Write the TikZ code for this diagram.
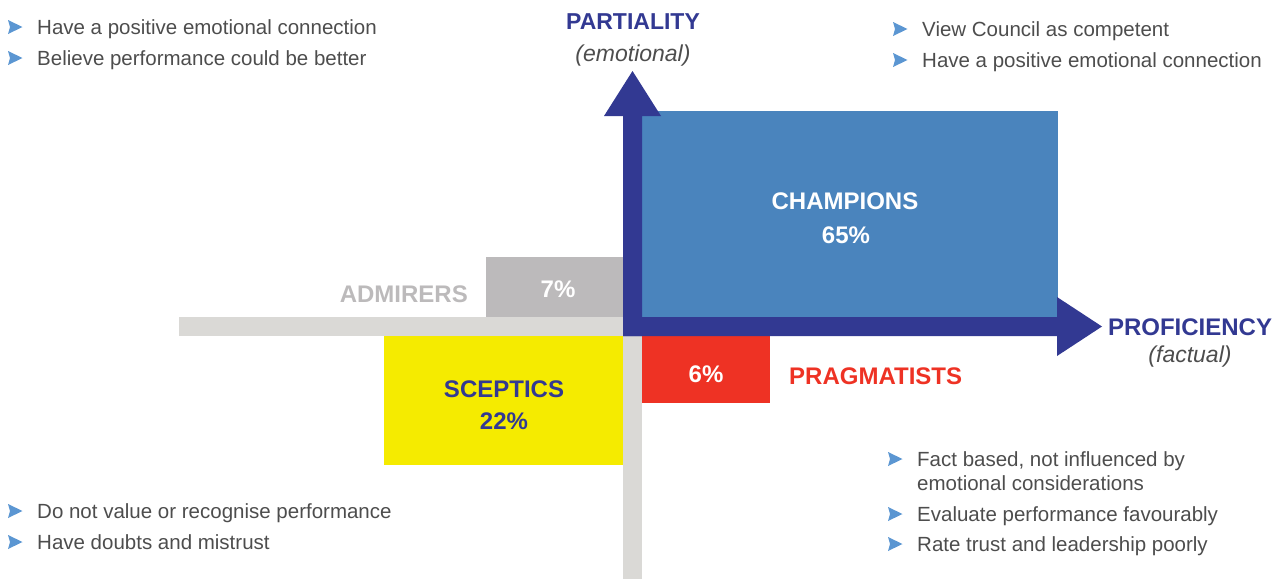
\documentclass[tikz,border=0pt]{standalone}
\usepackage{fontspec}
\setmainfont{Liberation Sans}
\definecolor{axisblue}{RGB}{50,57,146}
\definecolor{champblue}{RGB}{74,132,189}
\definecolor{pragred}{RGB}{238,50,36}
\definecolor{sceptyellow}{RGB}{245,235,0}
\definecolor{admgrey}{RGB}{188,186,187}
\definecolor{bargrey}{RGB}{218,217,214}
\definecolor{textgrey}{RGB}{77,77,77}
\definecolor{bulletblue}{RGB}{91,150,210}
\tikzset{
  body/.style={font=\fontsize{20.5}{24}\selectfont, text=textgrey, inner sep=0pt, anchor=base west},
  biglabel/.style={font=\fontsize{24}{28}\selectfont\bfseries, inner sep=0pt, anchor=base},
  axislabel/.style={font=\fontsize{23}{27}\selectfont\bfseries, text=axisblue, inner sep=0pt, anchor=base},
  axissub/.style={font=\fontsize{23}{27}\selectfont\itshape, text=textgrey, inner sep=0pt, anchor=base},
  box/.style={draw=none, inner sep=0pt, outer sep=0pt, anchor=north west},
  bularrow/.pic={\fill[bulletblue] (-7,-7) -- (7.5,0) -- (-7,7) -- (-5,0) -- cycle;}
}
\begin{document}
\begin{tikzpicture}[x=1pt,y=-1pt]
\useasboundingbox (0,0) rectangle (1283,579);
% grey axis parts
\fill[bargrey] (179,317) rectangle (623,336);
\fill[bargrey] (623,336) rectangle (642,579);
% boxes
\node[box, fill=champblue, minimum width=416pt, minimum height=206pt] (champ) at (642,111) {};
\node[box, fill=admgrey, minimum width=137pt, minimum height=60pt] (adm) at (486,257) {};
\node[box, fill=sceptyellow, minimum width=239pt, minimum height=129pt] (scep) at (384,336) {};
\node[box, fill=pragred, minimum width=128pt, minimum height=67pt] (prag) at (642,336) {};
% axes
\coordinate (origin) at (623,336);
\fill[axisblue] (origin) -- (623,116) -- (604,116) -- (632.5,71) -- (661,116) -- (642,116) -- (642,336) -- cycle;
\fill[axisblue] (623,317) -- (1057,317) -- (1057,297) -- (1102,326.5) -- (1057,356) -- (1057,336) -- (origin) -- cycle;
% axis labels
\node[axislabel] (partiality) at (633,29) {PARTIALITY};
\node[axissub] (emotional) at (633,61) {(emotional)};
\node[axislabel, font=\fontsize{24}{28}\selectfont\bfseries] (proficiency) at (1190,335) {PROFICIENCY};
\node[axissub] (factual) at (1190,362) {(factual)};
% box labels
\node[biglabel, text=white] (champname) at (845,209) {CHAMPIONS};
\node[biglabel, text=white] (champpct) at (846,243) {65\%};
\node[biglabel, text=white] (admpct) at (558,297) {7\%};
\node[biglabel, text=admgrey, anchor=base east] (admname) at (468,302) {ADMIRERS};
\node[biglabel, text=axisblue] (scepname) at (504,397) {SCEPTICS};
\node[biglabel, text=axisblue] (sceppct) at (504,429) {22\%};
\node[biglabel, text=white] (pragpct) at (706,382) {6\%};
\node[biglabel, text=pragred, anchor=base west] (pragname) at (789,384) {PRAGMATISTS};
% bullets top left
\pic at (15,27) {bularrow};
\node[body] (tl1) at (37,34) {Have a positive emotional connection};
\pic at (15,58) {bularrow};
\node[body] (tl2) at (37,65) {Believe performance could be better};
% bullets top right
\pic at (900,29) {bularrow};
\node[body] (tr1) at (922,36) {View Council as competent};
\pic at (900,60) {bularrow};
\node[body] (tr2) at (922,67) {Have a positive emotional connection};
% bullets bottom left
\pic at (15,511) {bularrow};
\node[body] (bl1) at (37,518) {Do not value or recognise performance};
\pic at (15,542) {bularrow};
\node[body] (bl2) at (37,549) {Have doubts and mistrust};
% bullets bottom right
\pic at (895,459) {bularrow};
\node[body] (br1) at (917,466) {Fact based, not influenced by};
\node[body] (br1b) at (917,490) {emotional considerations};
\pic at (895,514) {bularrow};
\node[body] (br2) at (917,521) {Evaluate performance favourably};
\pic at (895,544) {bularrow};
\node[body] (br3) at (917,551) {Rate trust and leadership poorly};
\end{tikzpicture}
\end{document}
